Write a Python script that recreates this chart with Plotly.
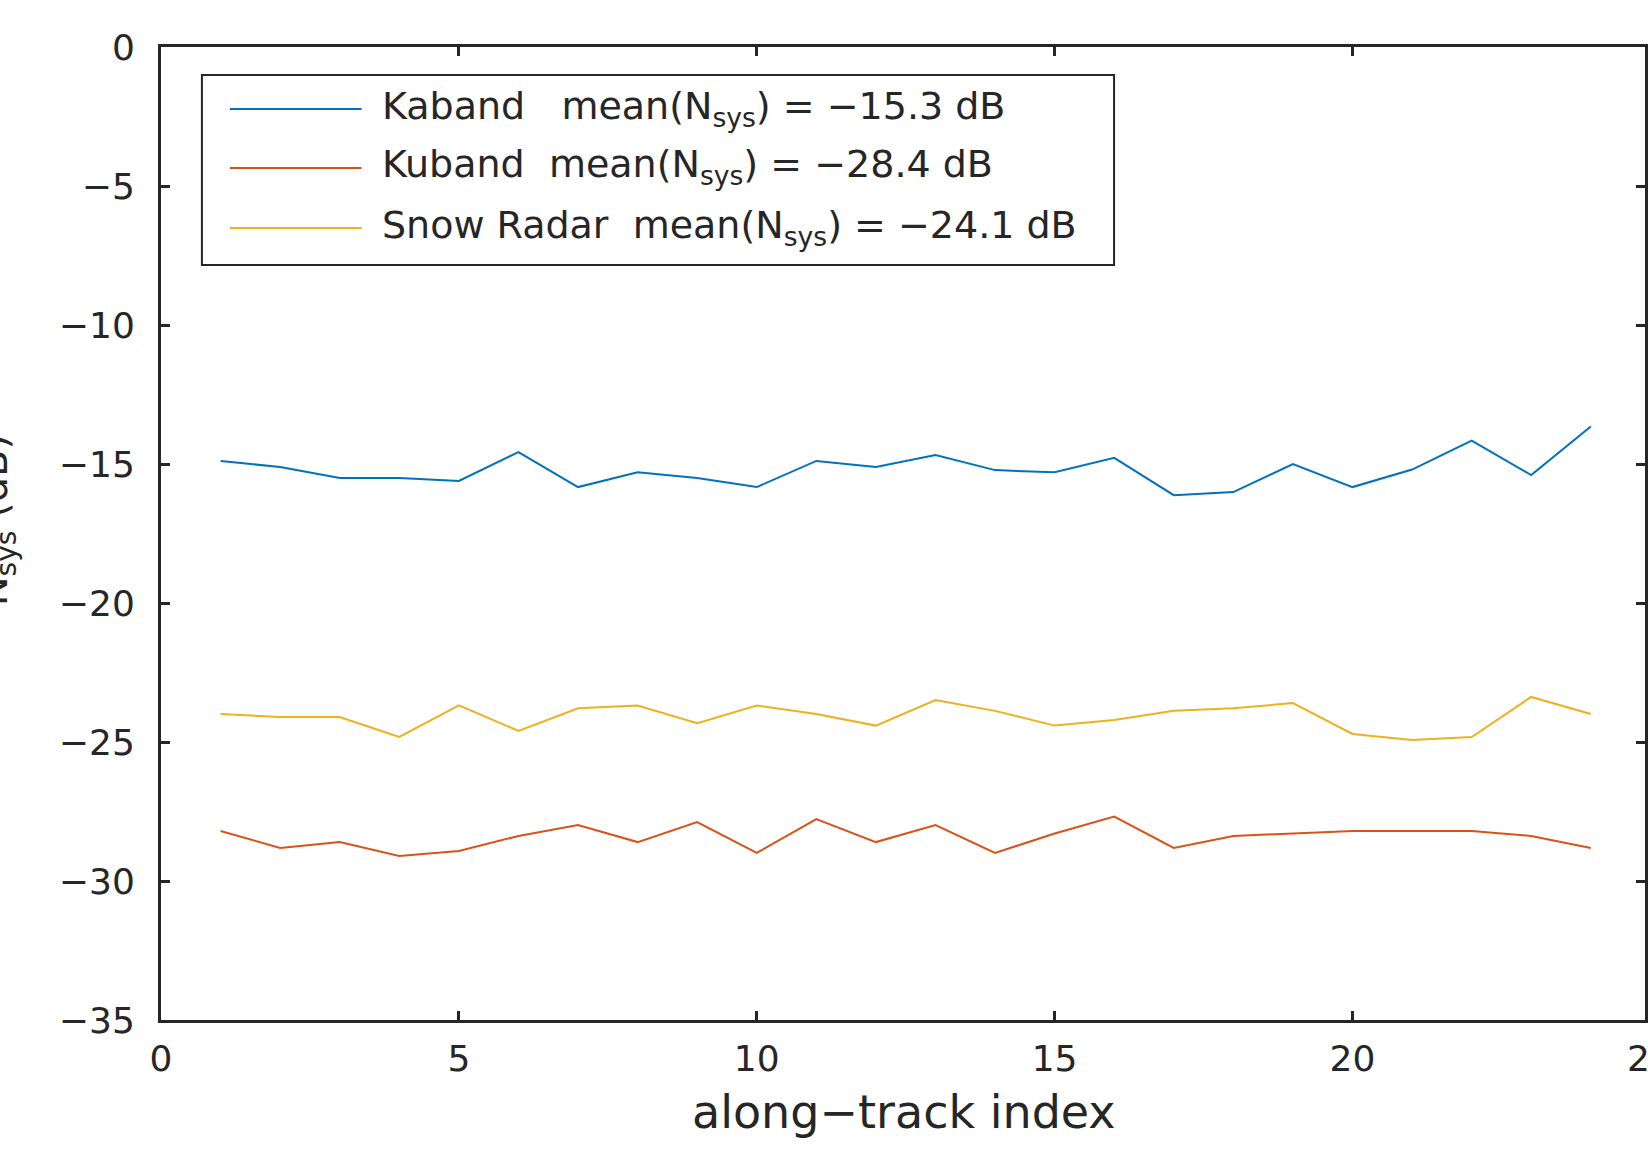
import plotly.graph_objects as go

# ---------------- data ----------------
track_index = list(range(1, 25))
kaband = [-14.89, -15.11, -15.50, -15.50, -15.61, -14.57, -15.83, -15.30, -15.50, -15.83,
          -14.89, -15.11, -14.68, -15.22, -15.30, -14.78, -16.12, -16.01, -15.00, -15.83,
          -15.20, -14.16, -15.40, -13.65]
kuband = [-28.20, -28.81, -28.60, -29.10, -28.92, -28.38, -27.99, -28.60, -27.88, -28.99,
          -27.77, -28.60, -27.99, -28.99, -28.29, -27.68, -28.81, -28.38, -28.29, -28.20,
          -28.20, -28.20, -28.38, -28.81]
snow = [-23.99, -24.10, -24.10, -24.82, -23.68, -24.60, -23.79, -23.69, -24.32, -23.69,
        -23.99, -24.41, -23.49, -23.88, -24.41, -24.21, -23.88, -23.79, -23.60, -24.71,
        -24.93, -24.82, -23.38, -23.99]

series_names = ["Kaband", "Kuband", "Snow Radar"]
series_gaps = ["\u00a0\u00a0\u00a0", "\u00a0\u00a0", "\u00a0\u00a0"]
series_means = ["-15.3", "-28.4", "-24.1"]
series_colors = ["#0072BD", "#D95319", "#EDB120"]
series_values = [kaband, kuband, snow]

x_ticks = [0, 5, 10, 15, 20, 25]
y_ticks = [0, -5, -10, -15, -20, -25, -30, -35]
x_max_visible = 24.91
y_range = [-35, 0]

# ---------------- layout geometry (pixels) ----------------
W, H = 1648, 1149
L, R, T, B = 161, 1648, 47, 1020
INK = "#262626"
FONT = "DejaVu Sans"


def px(xp):
    return (xp - L) / (R - L)


def py(yp):
    return (B - yp) / (B - T)


fig = go.Figure()
for name, vals, col in zip(series_names, series_values, series_colors):
    fig.add_trace(go.Scatter(x=track_index, y=vals, mode="lines", name=name,
                             line=dict(color=col, width=2), showlegend=False))

axis_common = dict(
    showline=True, linecolor=INK, linewidth=3, mirror="ticks",
    ticks="inside", ticklen=9, tickwidth=2.5, tickcolor=INK,
    showgrid=False, zeroline=False,
    tickfont=dict(family=FONT, size=36, color=INK),
)

fig.update_layout(
    width=W, height=H,
    margin=dict(l=L, r=W - R, t=T, b=H - B, pad=0),
    paper_bgcolor="white", plot_bgcolor="white",
    xaxis=dict(range=[0, x_max_visible], tickvals=x_ticks, ticklabelstandoff=5,
               **axis_common),
    yaxis=dict(range=y_range, tickvals=y_ticks, ticklabelstandoff=16, **axis_common),
    showlegend=False,
)

# x-axis title
fig.add_annotation(text="along\u2212track index", xref="paper", yref="paper",
                   x=px(906), y=py(1112), xanchor="center", yanchor="middle",
                   showarrow=False, font=dict(family=FONT, size=46, color=INK))

# partially visible last x tick label (25)
fig.add_annotation(text=str(x_ticks[-1]), xref="paper", yref="paper",
                   x=x_ticks[-1] / x_max_visible, y=py(1058), xanchor="center",
                   yanchor="middle", showarrow=False,
                   font=dict(family=FONT, size=36, color=INK))

# y-axis title (mostly cut off at the left edge)
fig.add_annotation(text="N<sub>sys</sub> (dB)", xref="paper", yref="paper",
                   x=px(-4), y=py(520), xanchor="center", yanchor="middle",
                   textangle=-90, showarrow=False,
                   font=dict(family=FONT, size=40, color=INK))

# custom legend box
fig.add_shape(type="rect", xref="paper", yref="paper",
              x0=px(202), x1=px(1116), y0=py(265), y1=py(75),
              line=dict(color=INK, width=2), fillcolor="white", layer="above")
row_y = [109, 168, 228]
for name, gap, m, col, ry in zip(series_names, series_gaps, series_means, series_colors, row_y):
    fig.add_shape(type="line", xref="paper", yref="paper",
                  x0=px(230), x1=px(362), y0=py(ry), y1=py(ry),
                  line=dict(color=col, width=2), layer="above")
    label = f"{name}{gap}mean(N<sub>sys</sub>) = {m.replace('-', chr(0x2212))} dB"
    fig.add_annotation(text=label, xref="paper", yref="paper",
                       x=px(380), y=py(ry - 1), xanchor="left", yanchor="middle",
                       showarrow=False, font=dict(family=FONT, size=38, color=INK))

fig.write_html("out.html")
